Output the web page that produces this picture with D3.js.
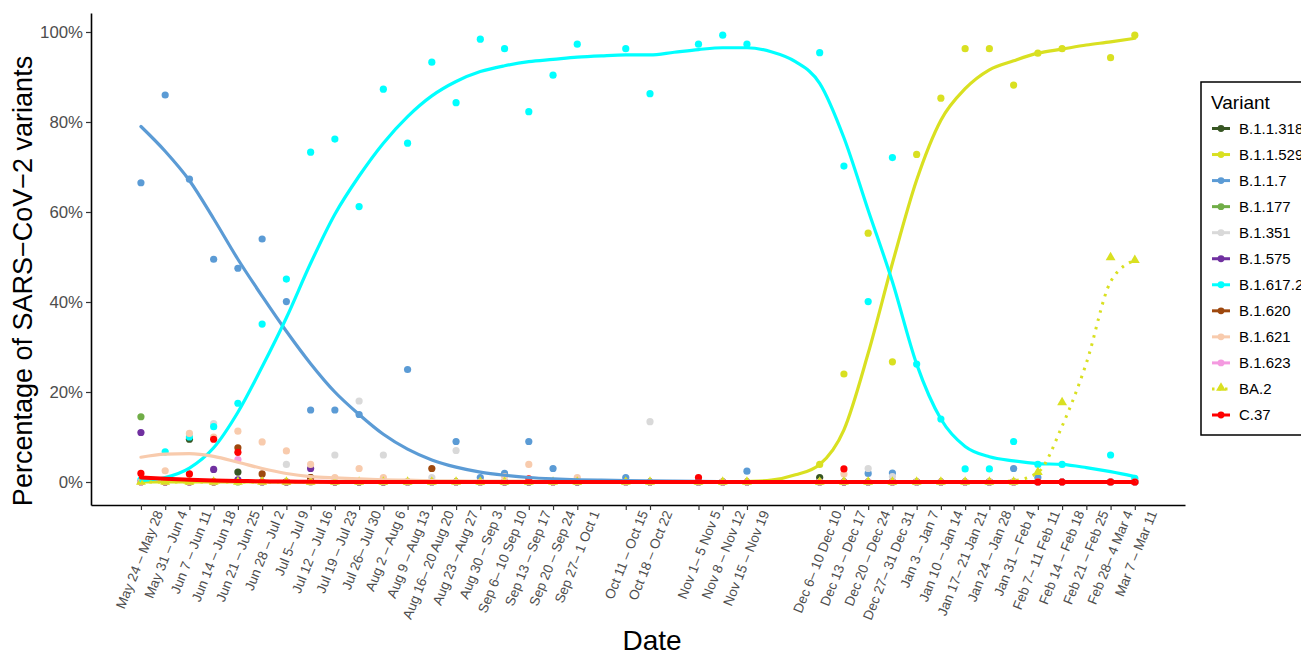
<!DOCTYPE html>
<html><head><meta charset="utf-8">
<script src="https://cdn.jsdelivr.net/npm/d3@7"></script>
<style>
body{margin:0;background:#fff;}
svg{display:block;font-family:"Liberation Sans",Arial,Helvetica,sans-serif;}
</style>
</head><body>
<svg id="chart" width="1301" height="655"></svg>
<script>
// ---- axis ticks (week offsets from May 24, 2021) and labels ----
const tickWeeks = [0,1,2,3,4,5,6,7,8,9,10,11,12,13,14,15,16,17,18,20,21,23,24,25,28,29,30,31,32,33,34,35,36,37,38,39,40,41];
const tickLabels = ["May 24 – May 28","May 31 – Jun 4","Jun 7 – Jun 11","Jun 14 – Jun 18","Jun 21 – Jun 25","Jun 28 – Jul 2","Jul 5– Jul 9","Jul 12 – Jul 16","Jul 19 – Jul 23","Jul 26– Jul 30","Aug 2 – Aug 6","Aug 9 – Aug 13","Aug 16– 20 Aug 20","Aug 23 – Aug 27","Aug 30 – Sep 3","Sep 6– 10 Sep 10","Sep 13 – Sep 17","Sep 20 – Sep 24","Sep 27– 1 Oct 1","Oct 11 – Oct 15","Oct 18 – Oct 22","Nov 1– 5 Nov 5","Nov 8 – Nov 12","Nov 15 – Nov 19","Dec 6– 10 Dec 10","Dec 13 – Dec 17","Dec 20 – Dec 24","Dec 27– 31 Dec 31","Jan 3 – Jan 7","Jan 10 – Jan 14","Jan 17– 21 Jan 21","Jan 24 – Jan 28","Jan 31 – Feb 4","Feb 7– 11 Feb 11","Feb 14 – Feb 18","Feb 21 – Feb 25","Feb 28– 4 Mar 4","Mar 7 – Mar 11"];
const yTicks = [0,20,40,60,80,100];

// ---- weeks with observations ----
const dataWeeks = [0,1,2,3,4,5,6,7,8,9,10,11,12,13,14,15,16,17,18,20,21,23,24,25,28,29,30,31,32,33,34,35,36,37,38,40,41];

// ---- variants ----
const variants = ["B.1.1.318","B.1.1.529","B.1.1.7","B.1.177","B.1.351","B.1.575","B.1.617.2","B.1.620","B.1.621","B.1.623","BA.2","C.37"];
const variantColors = ["#375623","#d9e021","#5b9bd5","#70ad47","#d9d9d9","#7030a0","#00ffff","#9e480e","#f8cbad","#f49ae0","#d9e021","#ff0000"];

// ---- observed percentages (aligned with dataWeeks; null = no point) ----
const pB11318 = [0,0,9.5,0,2.2,0,0,1.0,0,0, 0,0,0,0,0,0,0,0,0, 0,0,0,0,0, 1.0,0,0,0,0,0,0,0,0,0,0,0,0];
const pB11529 = [0,0,0,0,0,0,0,0,0,0, 0,0,0,0,0,0,0,0,0, 0,0,0,0,0, 3.9,24.0,55.3,26.7,72.8,85.3,96.3,96.3,88.2,95.3,96.3,94.3,99.3];
const pB117   = [66.5,86.0,67.3,49.5,47.5,54.0,40.1,16.0,16.0,15.0, 0,25.0,0,9.0,1.0,1.9,9.0,3.0,0, 1.0,0,0,0,2.4, 0,0,1.9,2.0,0,0,0,0,3.0,1.0,0,0,0];
const pB1177  = [14.5,0,0,0,0,0,0,0,0,0, 0,0,0,0,0,0,0,0,0, 0,0,0,0,0, 0,0,0,0,0,0,0,0,0,0,0,0,0];
const pB1351  = [0,0,0,13.0,0,0,3.9,0,6.0,18.0, 6.0,0,1.0,7.0,0,0,0,0,0, 0,13.4,0,0,0, 0,0,3.0,1.2,0,0,0,0,0,0,0,0,0];
const pB1575  = [11.0,0,0,2.8,0.5,0,0,3.0,0,0, 0,0,0,0,0,0,0,0,0, 0,0,0,0,0, 0,0,0,0,0,0,0,0,0,0,0,0,0];
const pB16172 = [0.5,6.7,10.0,12.3,17.5,35.1,45.1,73.3,76.2,61.2, 87.3,75.3,93.3,84.3,98.4,96.3,82.3,90.4,97.3, 96.3,86.3,97.3,99.3,97.3, 95.4,70.2,40.1,72.1,26.2,14.0,2.9,2.9,9.0,3.9,3.9,6.0,0.8];
const pB1620  = [0,0,0,0,7.6,1.8,0,1.0,0,0, 0,0,3.0,0,0,0,0,0,0, 0,0,0,0,0, 0,0,0,0,0,0,0,0,0,0,0,0,0];
const pB1621  = [0,2.5,10.8,10.0,11.3,8.9,6.9,3.9,1.0,3.0, 1.0,0,0,0,0,1.2,3.9,0,1.0, 0,0,0,0,0, 0,1.8,0,0,0,0,0,0,0,0,0,0,0];
const pB1623  = [0,0,0,0,5.0,0,0,0,0,0, 0,0,0,0,0,0,0,0,0, 0,0,0,0,0, 0,0,0,0,0,0,0,0,0,0,0,0,0];
const pBA2    = [0,0,0,0,0,0,0,0,0,0, 0,0,0,0,0,0,0,0,0, 0,0,0,0,0, 0,0,0,0,0,0,0,0,0,2.2,17.7,49.9,49.3];
const pC37    = [1.9,null,1.8,9.5,6.6,null,null,null,null,null, null,null,null,null,null,null,0.7,null,null, null,null,1.0,null,null, null,2.9,null,null,null,null,null,null,null,0,0,0,0];

// ---- fitted trend values, weeks 0..41 ----
const fitWeeks = [0,1,2,3,4,5,6,7,8,9,10,11,12,13,14,15,16,17,18,19,20,21,22,23,24,25,26,27,28,29,30,31,32,33,34,35,36,37,38,39,40,41];
const fitB117   = [79,73.5,67,58.5,49.5,41.3,33.5,26.3,20,15,10.6,7.3,4.9,3.3,2.2,1.5,1.0,0.7,0.5,0.4,0.3,0.25,0.2,0.15,0.1,0.1,0.1,0.1,0.1,0.1,0.1,0.1,0.1,0.1,0.1,0.1,0.1,0.1,0.1,0.1,0.1,0.1];
const fitB16172 = [0.3,1.0,3.1,7.6,15.5,25.6,36.5,48.6,59.5,68,75.3,81.2,85.8,89,91.2,92.5,93.4,93.9,94.4,94.7,94.9,94.9,95.5,96.1,96.5,96.5,95.6,93.4,88.6,76.5,60.4,44.5,26.2,14.0,7.9,5.6,4.7,4.1,3.9,3.2,2.3,1.2];
const fitB11529 = [0,0,0,0,0,0,0,0,0,0,0,0,0,0,0,0,0,0,0,0,0,0,0,0,0,0.1,0.4,1.6,3.9,11.6,28.6,48.6,67.1,80.4,87.4,91.6,93.6,95.3,96.2,97.1,97.8,98.6];
const fitB1621  = [5.5,6.2,6.3,5.7,4.4,3.0,1.9,1.2,0.9,0.7,0.5,0.4,0.3,0.25,0.2,0.2,0.15,0.1,0.1,0.1,0.05,0.05,0.05,0.05,0.05,0.05,0.05,0.05,0.05,0.05,0.05,0.05,0.05,0.05,0.05,0.05,0.05,0.05,0.05,0.05,0.05,0.05];
const fitBA2    = [0,0,0,0,0,0,0,0,0,0,0,0,0,0,0,0,0,0,0,0,0,0,0,0,0,0,0,0,0,0,0,0,0,0,0,0,0.3,2.1,12.4,26.4,44.5,49.3];
const fitC37    = [1.0,0.7,0.5,0.35,0.25,0.15,0.1,0.05,0,0,0,0,0,0,0,0,0,0,0,0,0,0,0,0,0,0,0,0,0,0,0,0,0,0,0,0,0,0,0,0,0,0];

const pointSeries = [pB11318,pB11529,pB117,pB1177,pB1351,pB1575,pB16172,pB1620,pB1621,pB1623,pBA2,pC37];
const fitSeries = [
  {v:"B.1.1.529", vals:fitB11529},
  {v:"B.1.1.7", vals:fitB117},
  {v:"B.1.617.2", vals:fitB16172},
  {v:"B.1.621", vals:fitB1621},
  {v:"BA.2", vals:fitBA2, dotted:true},
  {v:"C.37", vals:fitC37, wide:true}
];

const color = d3.scaleOrdinal().domain(variants).range(variantColors);
const svg = d3.select("#chart");

const x = d3.scaleLinear().domain([-2.06, 43.07]).range([91, 1185]);
const y = d3.scaleLinear().domain([-5.11, 104.22]).range([505, 13]);

// ---- points ----
const pts = svg.append("g");
variants.forEach((v, vi) => {
  const vals = pointSeries[vi];
  const data = dataWeeks.map((w,i)=>({w, p: vals[i]})).filter(d => d.p !== null);
  if (v === "BA.2") {
    pts.selectAll(null).data(data).enter().append("path")
      .attr("d", d3.symbol().type(d3.symbolTriangle).size(42))
      .attr("transform", d => `translate(${x(d.w)},${y(d.p)})`)
      .attr("fill", color(v));
  } else {
    pts.selectAll(null).data(data).enter().append("circle")
      .attr("cx", d => x(d.w)).attr("cy", d => y(d.p)).attr("r", 3.6)
      .attr("fill", color(v));
  }
});

// ---- smooth trend lines ----
const line = d3.line().x(d => x(d.w)).y(d => y(d.p)).curve(d3.curveMonotoneX);
fitSeries.forEach(s => {
  const data = fitWeeks.map((w,i)=>({w, p:s.vals[i]}));
  svg.append("path").datum(data).attr("d", line)
    .attr("fill","none").attr("stroke", color(s.v))
    .attr("stroke-width", s.wide ? 4 : (s.dotted ? 3 : 3.2))
    .attr("stroke-linecap", s.dotted ? "butt" : "round")
    .attr("stroke-dasharray", s.dotted ? "2.5,6" : null);
});

// ---- axes ----
const yAxis = svg.append("g").attr("transform","translate(91,0)")
  .call(d3.axisLeft(y).tickValues(yTicks).tickFormat(d => d + "%").tickSize(5).tickSizeOuter(0).tickPadding(3));
yAxis.attr("font-family",null);
yAxis.select(".domain").attr("stroke","#000").attr("stroke-width",1.6);
yAxis.selectAll(".tick line").attr("stroke","#333").attr("stroke-width",1.2);
yAxis.selectAll(".tick text").attr("fill","#4d4d4d").style("font-size","16.8px");

const xAxis = svg.append("g").attr("transform","translate(0,505)")
  .call(d3.axisBottom(x).tickValues(tickWeeks).tickFormat((d,i) => tickLabels[i]).tickSize(5).tickSizeOuter(0));
xAxis.attr("font-family",null);
xAxis.select(".domain").attr("stroke","#000").attr("stroke-width",1.6);
xAxis.selectAll(".tick line").attr("stroke","#333").attr("stroke-width",1.2);
xAxis.selectAll(".tick text")
  .attr("fill","#4d4d4d").style("font-size","13.6px")
  .attr("text-anchor","end").attr("dy",null).attr("y",0).attr("x",0)
  .attr("transform","translate(22,8) rotate(-68)");

// ---- axis titles ----
svg.append("text").attr("transform","translate(32,281) rotate(-90)")
  .attr("text-anchor","middle").style("font-size","27px").attr("fill","#000")
  .text("Percentage of SARS−CoV−2 variants");
svg.append("text").attr("x",652).attr("y",650)
  .attr("text-anchor","middle").style("font-size","28px").attr("fill","#000")
  .text("Date");

// ---- legend ----
const lg = svg.append("g");
lg.append("rect").attr("x",1201).attr("y",82).attr("width",120).attr("height",353)
  .attr("fill","#fff").attr("stroke","#000").attr("stroke-width",1.5);
lg.append("text").attr("x",1211).attr("y",109).style("font-size","19px").text("Variant");
const legendY = d3.scalePoint().domain(variants).range([128.5, 415]);
variants.forEach(v => {
  const g = lg.append("g").attr("transform", `translate(0,${legendY(v)})`);
  const isBA2 = v === "BA.2";
  g.append("line").attr("x1",1212).attr("x2",1230).attr("y1",0).attr("y2",0)
    .attr("stroke", color(v)).attr("stroke-width",3)
    .attr("stroke-dasharray", isBA2 ? "2.5,4" : null);
  if (isBA2) {
    g.append("path").attr("d", d3.symbol().type(d3.symbolTriangle).size(42)).attr("transform","translate(1221,-1)").attr("fill",color(v));
  } else {
    g.append("circle").attr("cx",1221).attr("cy",0).attr("r",3.4).attr("fill",color(v));
  }
  g.append("text").attr("x",1239).attr("y",0).attr("dy","0.36em").style("font-size","15px").attr("fill","#000").text(v);
});
</script>
</body></html>
